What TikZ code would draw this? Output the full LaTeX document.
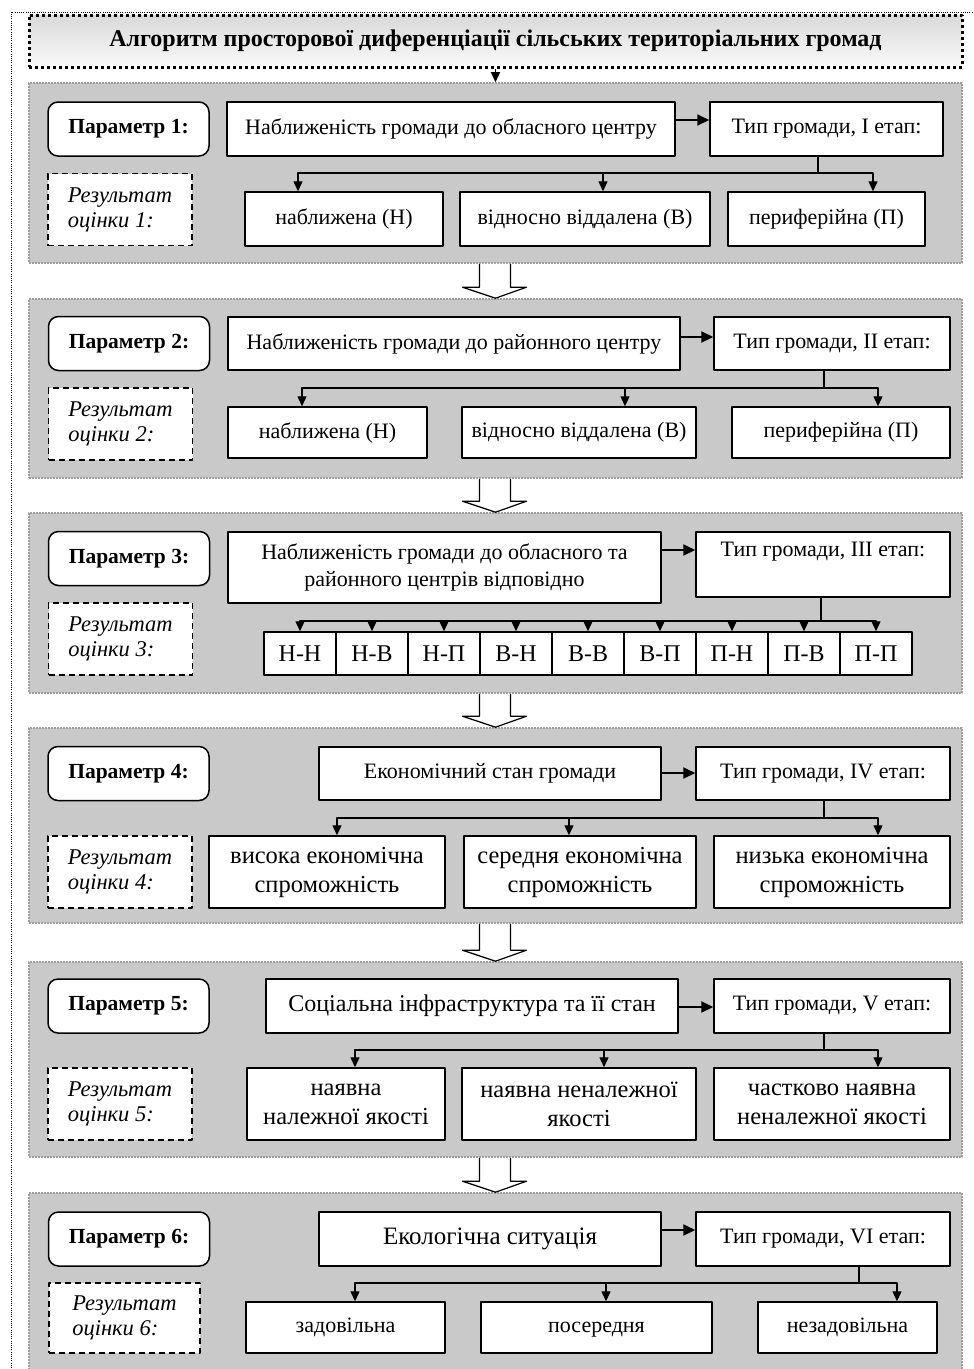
\documentclass[tikz,border=0pt]{standalone}
\usepackage{fontspec}
\setmainfont{Liberation Serif}
\usetikzlibrary{arrows.meta}
\tikzset{
  panel/.style={draw=gray!75, fill=gray!42, line width=1.6pt, dash pattern=on 1.6pt off 1.4pt, minimum width=933pt, inner sep=0pt},
  param/.style={draw, fill=white, rounded corners=10pt, line width=1.5pt, minimum width=161pt, minimum height=54pt, inner sep=0pt, font=\fontsize{21.5}{26}\selectfont\bfseries},
  result/.style={draw, fill=white, line width=1.4pt, dash pattern=on 6pt off 4pt, minimum width=144pt, minimum height=72pt, inner sep=0pt, align=left, font=\fontsize{22.5}{25}\selectfont\itshape},
  bx/.style 2 args={draw, fill=white, line width=1.5pt, inner sep=0pt, align=center, minimum width=#1pt, minimum height=#2pt},
  ln/.style={text height=15pt, text depth=5pt},
  bigtxt/.style={font=\fontsize{24.5}{29}\selectfont},
  cell/.style={draw, fill=white, line width=1.5pt, inner sep=0pt, minimum width=72pt, minimum height=43pt, font=\fontsize{24}{28}\selectfont},
  br/.style={line width=1.3pt},
  dn/.style={-{Triangle[length=10pt,width=9pt]}},
  rt/.style={line width=2pt, -{Triangle[length=12pt,width=11pt]}},
}
\begin{document}
\begin{tikzpicture}[x=1pt, y=-1pt, font=\fontsize{22}{27}\selectfont, line join=round]
\useasboundingbox (0,0) rectangle (974,1369);
\clip (0,0) rectangle (974,1369);
% заголовок
\node[draw, line width=3pt, dash pattern=on 3pt off 3pt, top color=gray!30, bottom color=gray!4, minimum width=933pt, minimum height=52pt, font=\fontsize{24}{28}\selectfont\bfseries] (ttl) at (495.5,41) {Алгоритм просторової диференціації сільських територіальних громад};
% блоки параметрів
\node[panel, minimum height=180pt] (p1) at (495.5,173) {};
\node[panel, minimum height=179pt] (p2) at (495.5,388.5) {};
\node[panel, minimum height=180pt] (p3) at (495.5,603) {};
\node[panel, minimum height=195pt] (p4) at (495.5,825.5) {};
\node[panel, minimum height=195pt] (p5) at (495.5,1059.5) {};
\node[panel, minimum height=227pt] (p6) at (495.5,1306.5) {};
\draw[line width=1pt, dash pattern=on 1pt off 1.2pt] (11,1390) |- (990,12);
\draw[br,dn] (ttl.south) -- (p1.north);
\foreach \a/\b in {p1/p2,p2/p3,p3/p4,p4/p5,p5/p6}
  \draw[line width=1.2pt, fill=white] ([xshift=-16pt]\a.south) -- ([xshift=-16pt,yshift=11pt]\b.north) -- ([xshift=-33pt,yshift=11pt]\b.north) -- (\b.north) -- ([xshift=31pt,yshift=11pt]\b.north) -- ([xshift=15pt,yshift=11pt]\b.north) -- ([xshift=15pt]\a.south);

% Параметр 1
\node[param] (par1) at (128.5,129) {Параметр 1:};
\node[bx={448}{54}] (m1) at (451,129) {Наближеність громади до обласного центру};
\node[bx={233}{54}] (t1) at (826.5,129) {Тип громади, I етап:};
\draw[rt] (m1.east |- 0,120) -- (t1.west |- 0,120);
\node[result] (res1) at (120,209.5) {Результат\\оцінки 1:};
\node[bx={198}{54}] (r1a) at (344,219) {наближена (Н)};
\node[bx={250}{54}] (r1b) at (585,219) {відносно віддалена (В)};
\node[bx={197}{54}] (r1c) at (826.5,219) {периферійна (П)};
\coordinate (j1) at (818,173);
\draw[br] (j1 |- t1.south) -- (j1);
\foreach \x/\t in {298/r1a,603/r1b,873/r1c} \draw[br,dn] (j1) -| (\t.north -| \x,0);

% Параметр 2
\node[param] (par2) at (129,343.5) {Параметр 2:};
\node[bx={452}{53}] (m2) at (454,343.5) {Наближеність громади до районного центру};
\node[bx={236}{53}] (t2) at (832,343.5) {Тип громади, II етап:};
\draw[rt] (m2.east |- 0,337) -- (t2.west |- 0,337);
\node[result] (res2) at (120.5,424) {Результат\\оцінки 2:};
\node[bx={199}{51}] (r2a) at (327.5,432.5) {наближена (Н)};
\node[bx={234}{51}] (r2b) at (579,432.5) {відносно віддалена (В)};
\node[bx={218}{51}] (r2c) at (841,432.5) {периферійна (П)};
\coordinate (j2) at (824,388);
\draw[br] (j2 |- t2.south) -- (j2);
\foreach \x/\t in {302/r2a,625/r2b,878/r2c} \draw[br,dn] (j2) -| (\t.north -| \x,0);

% Параметр 3
\node[param] (par3) at (129,558.5) {Параметр 3:};
\node[bx={433}{71}] (m3) at (444.5,567.5) {Наближеність громади до обласного та\\районного центрів відповідно};
\node[bx={254}{65}, text depth=30pt] (t3) at (823,564.5) {Тип громади, III етап:};
\draw[rt] (m3.east |- 0,550) -- (t3.west |- 0,550);
\node[result] (res3) at (120.5,639) {Результат\\оцінки 3:};
\foreach \c [count=\i] in {Н-Н,Н-В,Н-П,В-Н,В-В,В-П,П-Н,П-В,П-П}
  \node[cell] (c\i) at (228+72*\i,653.5) {\c};
\coordinate (j3) at (821,621);
\draw[br] (j3 |- t3.south) -- (j3);
\foreach \i in {1,...,9} \draw[br,dn] (j3) -| (c\i.north);

% Параметр 4
\node[param] (par4) at (128.5,773.5) {Параметр 4:};
\node[bx={342}{53}] (m4) at (490,773.5) {Економічний стан громади};
\node[bx={254}{53}] (t4) at (823,773.5) {Тип громади, IV етап:};
\draw[rt] (m4.east |- 0,773) -- (t4.west |- 0,773);
\node[result] (res4) at (120,872) {Результат\\оцінки 4:};
\node[bx={236}{72}, bigtxt] (r4a) at (327,872) {висока економічна\\спроможність};
\node[bx={232}{72}, bigtxt] (r4b) at (580,872) {середня економічна\\спроможність};
\node[bx={236}{72}, bigtxt] (r4c) at (832,872) {низька економічна\\спроможність};
\coordinate (j4) at (824,818);
\draw[br] (j4 |- t4.south) -- (j4);
\foreach \x/\t in {337/r4a,569/r4b,878/r4c} \draw[br,dn] (j4) -| (\t.north -| \x,0);

% Параметр 5
\node[param] (par5) at (128.5,1006) {Параметр 5:};
\node[bx={412}{54}, font=\fontsize{24}{28}\selectfont] (m5) at (472,1006) {Соціальна інфраструктура та її стан};
\node[bx={236}{54}] (t5) at (832,1006) {Тип громади, V етап:};
\draw[rt] (m5.east |- 0,1007) -- (t5.west |- 0,1007);
\node[result] (res5) at (120,1104) {Результат\\оцінки 5:};
\node[bx={198}{72}, bigtxt] (r5a) at (346,1104) {наявна\\належної якості};
\node[bx={234}{72}, bigtxt] (r5b) at (579,1104) {наявна неналежної\\якості};
\node[bx={236}{72}, bigtxt] (r5c) at (832,1104) {частково наявна\\неналежної якості};
\coordinate (j5) at (824,1050);
\draw[br] (j5 |- t5.south) -- (j5);
\foreach \x/\t in {355/r5a,604/r5b,878/r5c} \draw[br,dn] (j5) -| (\t.north -| \x,0);

% Параметр 6
\node[param] (par6) at (129,1239) {Параметр 6:};
\node[bx={342}{54}, font=\fontsize{25}{29}\selectfont] (m6) at (490,1239) {Екологічна ситуація};
\node[bx={254}{54}] (t6) at (823,1239) {Тип громади, VI етап:};
\draw[rt] (m6.east |- 0,1230) -- (t6.west |- 0,1230);
\node[result, minimum width=151pt, minimum height=70pt] (res6) at (124.5,1318) {Результат\\оцінки 6:};
\node[bx={199}{51}, ln] (r6a) at (345.5,1327.5) {задовільна};
\node[bx={231}{51}, ln] (r6b) at (596.5,1327.5) {посередня};
\node[bx={179}{51}, ln] (r6c) at (847.5,1327.5) {незадовільна};
\coordinate (j6) at (859,1283);
\draw[br] (j6 |- t6.south) -- (j6);
\foreach \x/\t in {355/r6a,606/r6b,897/r6c} \draw[br,dn] (j6) -| (\t.north -| \x,0);
\end{tikzpicture}
\end{document}
